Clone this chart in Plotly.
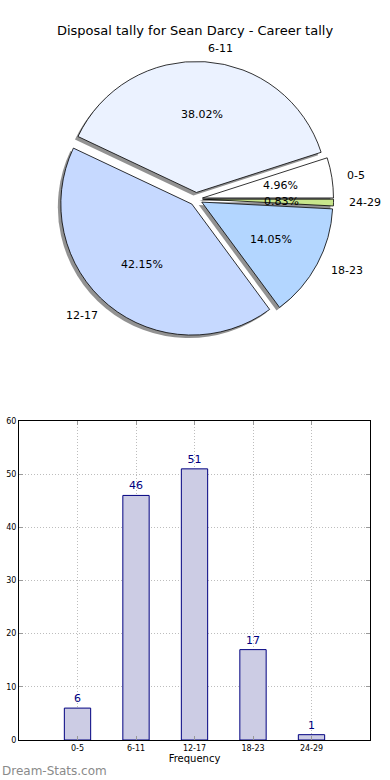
import math
import plotly.graph_objects as go

categories = ["0-5", "6-11", "12-17", "18-23", "24-29"]
counts = [6, 46, 51, 17, 1]
pie_colors = ["#FFFFFF", "#EBF2FF", "#C6D9FF", "#B3D6FF", "#C8E68C"]
explode = [0.05, 0.05, 0.05, 0.05, 0.05]
y_ticks = [0, 10, 20, 30, 40, 50, 60]

FONT = "DejaVu Sans"
W, H = 390, 780

# pie geometry (pixels)
PCX, PCY = 196, 199
PR = 131                      # radius of the un-exploded pie
PIE_SIDE = 2 * PR * (1 + max(explode))
PCT_DIST, LABEL_DIST = 0.6, 1.1

total = sum(counts)
# matplotlib-style: start at 3 o'clock, counterclockwise (plotly anchors the first slice's end)
start_rotation = 90 - 360.0 * counts[0] / total


def dom(cx, cy, side):
    return dict(x=[(cx - side / 2) / W, (cx + side / 2) / W],
                y=[1 - (cy + side / 2) / H, 1 - (cy - side / 2) / H])


fig = go.Figure()

# shadow
fig.add_trace(go.Pie(
    labels=categories, values=counts, sort=False, direction="counterclockwise", rotation=start_rotation,
    pull=explode, domain=dom(PCX - 3, PCY + 3, PIE_SIDE), textinfo="none", hoverinfo="skip",
    marker=dict(colors=["rgba(110,110,110,0.75)"] * len(counts), line=dict(width=0)),
    showlegend=False, automargin=False,
))
# main pie
fig.add_trace(go.Pie(
    labels=categories, values=counts, sort=False, direction="counterclockwise", rotation=start_rotation,
    pull=explode, domain=dom(PCX, PCY, PIE_SIDE), textinfo="none",
    marker=dict(colors=pie_colors, line=dict(color="black", width=0.8)),
    showlegend=False, automargin=False,
))

# matplotlib-style pie texts: percentages at 0.6 r, labels at 1.1 r (from the exploded centre)
annotations = []
cum = 0.0
for cat, v, e in zip(categories, counts, explode):
    theta = math.radians(360.0 * (cum + v / 2) / total)
    cum += v
    ox, oy = PCX + e * PR * math.cos(theta), PCY - e * PR * math.sin(theta)
    px_, py_ = ox + PCT_DIST * PR * math.cos(theta), oy - PCT_DIST * PR * math.sin(theta)
    annotations.append(dict(text=f"{100 * v / total:.2f}%", x=px_ / W, y=1 - py_ / H,
                            xref="paper", yref="paper", xanchor="center", yanchor="middle",
                            showarrow=False, font=dict(family=FONT, size=11, color="black")))
    lx, ly = ox + LABEL_DIST * PR * math.cos(theta), oy - LABEL_DIST * PR * math.sin(theta)
    annotations.append(dict(text=cat, x=lx / W, y=1 - ly / H,
                            xref="paper", yref="paper",
                            xanchor="left" if math.cos(theta) > 0 else "right", yanchor="middle",
                            showarrow=False, font=dict(family=FONT, size=11, color="black")))

annotations.append(dict(text="Dream-Stats.com", x=0, y=1 - 771 / H, xref="paper", yref="paper",
                        xanchor="left", yanchor="middle", showarrow=False,
                        font=dict(family=FONT, size=12, color="#8A8A8A")))

fig.add_trace(go.Bar(
    x=categories, y=counts, width=0.45,
    marker=dict(color="#CCCCE4", line=dict(color="#000080", width=1)),
    text=counts, textposition="outside", cliponaxis=False,
    textfont=dict(family=FONT, size=11, color="#000080"),
    showlegend=False,
))

GRID = dict(showgrid=True, gridcolor="#BDBDBD", griddash="1px,2px", gridwidth=1)

fig.update_layout(
    width=W, height=H,
    margin=dict(l=0, r=0, t=0, b=0),
    paper_bgcolor="white", plot_bgcolor="white",
    font=dict(family=FONT, size=11, color="black"),
    title=dict(text="Disposal tally for Sean Darcy - Career tally", x=0.5, xanchor="center",
               y=1 - 30 / H, yanchor="middle", font=dict(family=FONT, size=13, color="black")),
    xaxis=dict(domain=[19 / W, 370 / W], range=[-1, 5], type="category", automargin=False,
               showline=True, mirror="ticks", linecolor="black", linewidth=1,
               ticks="inside", ticklen=4, tickcolor="#999",
               tickfont=dict(family=FONT, size=8, color="black"),
               title=dict(text="Frequency", font=dict(family=FONT, size=10), standoff=3), **GRID),
    yaxis=dict(domain=[40 / H, 359 / H], range=[0, 60], tickvals=y_ticks, automargin=False,
               showline=True, mirror="ticks", linecolor="black", linewidth=1,
               ticks="inside", ticklen=4, tickcolor="#999",
               zeroline=False,
               tickfont=dict(family=FONT, size=8, color="black"), **GRID),
    annotations=annotations,
)

fig.write_html("out.html", config={"displayModeBar": False},
               post_script="document.body.style.margin='0';")
